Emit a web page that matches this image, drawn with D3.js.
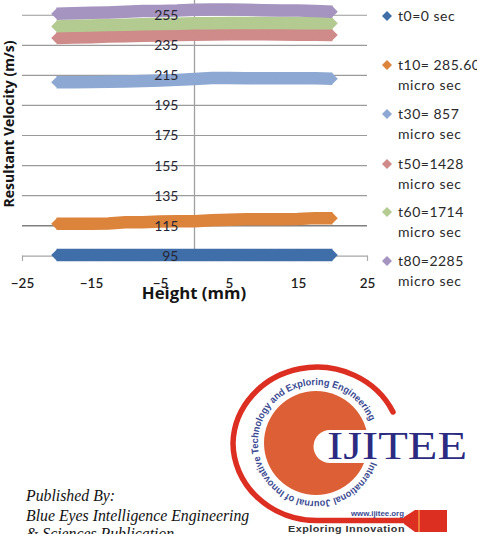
<!DOCTYPE html>
<html>
<head>
<meta charset="utf-8">
<style>
html,body{margin:0;padding:0;background:#fff;overflow:hidden}
svg{display:block}
</style>
<script src="https://cdn.jsdelivr.net/npm/d3@7/dist/d3.min.js"></script>
</head>
<body>
<svg id="fig" width="477" height="534"></svg>
<script>
// Height stations across the channel, in mm
const heights = [-20,-17.5,-15,-12.5,-10,-7.5,-5,-2.5,0,2.5,5,7.5,10,12.5,15,17.5,20];

// Resultant velocity (m/s) at each station, one list per time step
const t0  = [95.4,95.4,95.4,95.4,95.4,95.4,95.4,95.4,95.4,95.4,95.4,95.4,95.4,95.4,95.4,95.4,95.4];
const t10 = [116.2,116.3,116.3,116.5,117.2,117.2,117.8,118,118,118.6,119,119.3,119.3,119.3,119.4,120,120];
const t30 = [210.4,210.5,210.6,210.8,211,211.2,211.6,212,212.6,213.2,213.2,213,213,213,213,213,212.8];
const t50 = [239.8,240.2,240.4,240.8,241,241.4,241.6,241.8,242,242.2,242.4,242.4,242.3,242.2,242.1,242,241.9];
const t60 = [247.6,248,248.2,248.5,248.7,249,249.2,249.4,249.6,249.7,249.8,249.8,249.8,249.8,249.7,249.7,249.6];
const t80 = [256,256.4,256.6,256.9,257.4,257.8,257.9,258.1,258.6,258.8,258.8,258.6,258.4,258.2,258.1,257.9,257.4];

const seriesNames = ["t0=0 sec","t10= 285.60","t30= 857","t50=1428","t60=1714","t80=2285"];
const seriesUnits = ["","micro sec","micro sec","micro sec","micro sec","micro sec"];
const seriesValues = [t0,t10,t30,t50,t60,t80];
const seriesColors = ["#3f6ea8","#dc843c","#8da8d2","#cf8a8a","#b3ca90","#a594bf"];

const yTicks = [95,115,135,155,175,195,215,235,255];
const xTicks = [-25,-15,-5,5,15,25];

const uiFont = "Lato, 'Open Sans', sans-serif";
const svg = d3.select("#fig");

const x = d3.scaleLinear().domain([-25,25]).range([22,367]);
const y = d3.scaleLinear().domain([95,275]).range([255.7,-14.8]);

// Horizontal gridlines
svg.append("g").selectAll("line").data(yTicks.slice(1)).join("line")
  .attr("x1",x(-25)).attr("x2",x(25))
  .attr("y1",d=>y(d)).attr("y2",d=>y(d))
  .attr("stroke",d=>d===115?"#808080":"#9a9a9a")
  .attr("stroke-width",d=>d===115?1.5:1.2);

// Axes cross at the data origin, so the x axis sits on 95 and the y axis on 0
const xAxis = svg.append("g").attr("transform",`translate(0,${y(95)})`)
  .call(d3.axisBottom(x).tickValues(xTicks).tickSize(5).tickPadding(18).tickFormat(d3.format("d")));
xAxis.select(".domain").attr("stroke","#a8a8a8").attr("stroke-width",1.2);
xAxis.selectAll(".tick line").attr("stroke","#a8a8a8").attr("stroke-width",1)
  .attr("opacity",d=>Math.abs(d)===25?1:0);
xAxis.selectAll("text").attr("font-family",uiFont).attr("font-size",13.5).attr("fill","#1c1c1c").attr("font-weight",600);

svg.append("line").attr("x1",x(0)).attr("x2",x(0)).attr("y1",0).attr("y2",y(95))
  .attr("stroke","#a0a0a0").attr("stroke-width",1.3);

// Each series is so densely sampled that its markers merge into a band;
// the square symbol turned 45 degrees gives the pointed tips at both ends
const line = d3.line().x((d,i)=>x(heights[i])).y(d=>y(d));
const diamond = d3.symbol().type(d3.symbolSquare).size(56);
const bands = svg.append("g").selectAll("g").data(seriesValues).join("g");
bands.append("path").attr("d",line).attr("fill","none")
  .attr("stroke",(d,i)=>seriesColors[i]).attr("stroke-width",12.5).attr("stroke-linecap","butt");
bands.each(function(vals,i){
  d3.select(this).selectAll("path.m").data(vals).join("path").attr("class","m")
    .attr("d",diamond)
    .attr("transform",(d,j)=>`translate(${x(heights[j])},${y(d)}) rotate(45)`)
    .attr("fill",seriesColors[i]);
});

// Value labels sit on top of the bands, just left of the vertical axis
const yAxis = svg.append("g").attr("transform",`translate(${x(0)},0)`)
  .call(d3.axisLeft(y).tickValues(yTicks).tickSize(0).tickPadding(16).tickFormat(d3.format("d")));
yAxis.select(".domain").remove();
yAxis.selectAll("text").attr("font-family",uiFont).attr("font-size",14).attr("fill","#262633");

// Axis titles
svg.append("text").attr("x",194).attr("y",299).attr("text-anchor","middle")
  .attr("font-family","'Open Sans', sans-serif").attr("font-weight",700).attr("font-size",16.8)
  .attr("fill","#151515").text("Height (mm)");
svg.append("text").attr("transform","translate(14,124) rotate(-90)").attr("text-anchor","middle")
  .attr("font-family","'Open Sans', sans-serif").attr("font-weight",700).attr("font-size",14)
  .attr("fill","#151515").text("Resultant Velocity (m/s)");

// Legend
const legendRows = [16,65,114,164,212,261];
const legend = svg.append("g").selectAll("g").data(seriesNames).join("g")
  .attr("transform",(d,i)=>`translate(387,${legendRows[i]})`);
legend.append("path").attr("d",d3.symbol().type(d3.symbolSquare).size(50))
  .attr("transform","rotate(45)")
  .attr("fill",(d,i)=>seriesColors[i]);
legend.append("text").attr("x",11).attr("y",5).attr("font-family",uiFont).attr("font-size",14)
  .attr("letter-spacing",0.5).attr("fill","#2a2a2a").text(d=>d);
legend.append("text").attr("x",11).attr("y",25).attr("font-family",uiFont).attr("font-size",14)
  .attr("letter-spacing",0.6).attr("fill","#2a2a2a").text((d,i)=>seriesUnits[i]);

// Publisher block
const pub = svg.append("g").attr("font-family","'Liberation Serif', serif")
  .attr("font-style","italic").attr("font-size",15.8).attr("fill","#111");
pub.append("text").attr("x",26).attr("y",501).text("Published By:");
pub.append("text").attr("x",26).attr("y",521).text("Blue Eyes Intelligence Engineering");
pub.append("text").attr("x",26).attr("y",539).text("& Sciences Publication");

// Journal emblem
const cx = 316, cy = 443;
const logo = svg.append("g");

// Outer red ring running round into the pen-shaped handle
logo.append("path")
  .attr("d","M393,412 A84,78 0 0 0 233,443 A84,78 0 0 0 317,520.5 L410,520.5")
  .attr("fill","none").attr("stroke","#dc2f22").attr("stroke-width",5.5).attr("stroke-linecap","round");
logo.append("path").attr("d","M404,517 L415,510 L447,510 L447,532 L415,532 L404,524 Z").attr("fill","#dc2f22");
logo.append("rect").attr("x",418).attr("y",510).attr("width",2).attr("height",22).attr("fill","#ee7a3a");

// Orange disc with its keyhole notch
logo.append("circle").attr("cx",cx).attr("cy",cy).attr("r",52).attr("fill","#dd5f35");
logo.append("path").attr("d","M372,430 L330,430 A16.5,16.5 0 0 0 330,463 L372,463 Z").attr("fill","#fff");

const arcLabel = d3.path();
arcLabel.arc(cx,cy,58,19*Math.PI/180,341*Math.PI/180,false);
svg.append("defs").append("path").attr("id","ringText").attr("d",arcLabel.toString());
logo.append("text").attr("font-family","'Liberation Sans', sans-serif").attr("font-weight",700)
  .attr("font-size",9.8).attr("fill","#3a4a92")
  .append("textPath").attr("href","#ringText").attr("textLength",322).attr("lengthAdjust","spacingAndGlyphs")
  .text("International Journal of Innovative Technology and Exploring Engineering");

logo.append("text").attr("x",327).attr("y",459).attr("font-family","'Liberation Serif', serif")
  .attr("font-size",41).attr("fill","#2b2b82").attr("textLength",140).attr("lengthAdjust","spacingAndGlyphs").text("IJITEE");
logo.append("text").attr("x",351).attr("y",516).attr("font-family","'Liberation Sans', sans-serif")
  .attr("font-weight",700).attr("font-size",7.5).attr("fill","#3a4a92").attr("textLength",53).attr("lengthAdjust","spacingAndGlyphs").text("www.ijitee.org");
logo.append("text").attr("x",288).attr("y",532).attr("font-family","'Liberation Sans', sans-serif")
  .attr("font-weight",700).attr("font-size",8.5).attr("letter-spacing",0.4).attr("fill","#333").attr("textLength",117).attr("lengthAdjust","spacingAndGlyphs").text("Exploring Innovation");
</script>
</body>
</html>
